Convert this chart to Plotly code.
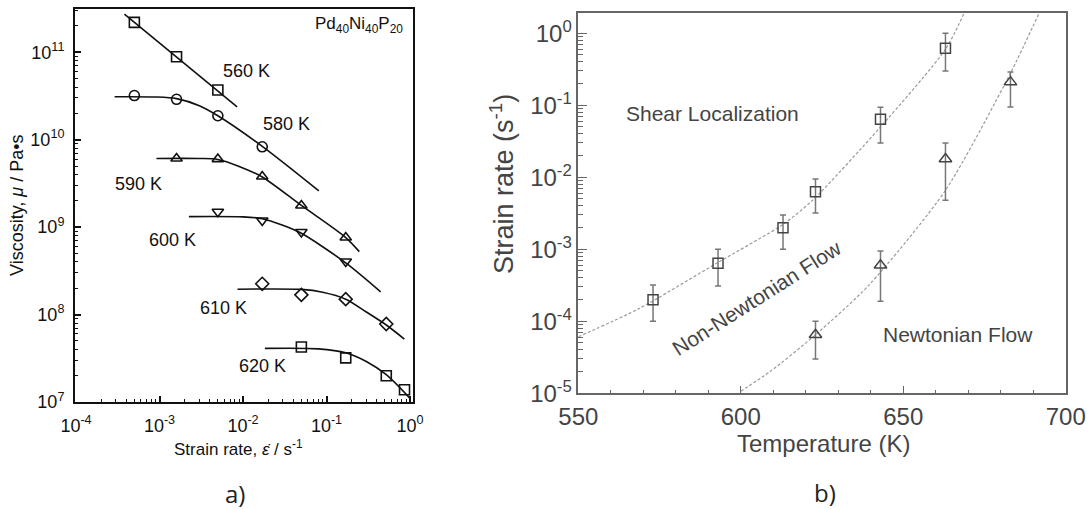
import plotly.graph_objects as go

W, H = 1089, 510

# ---------------- Panel a data (viscosity vs strain rate) ----------------
temps_a = ["560 K", "580 K", "590 K", "600 K", "610 K", "620 K"]

rate_560 = [5e-4, 1.6e-3, 5e-3]
visc_560 = [2.2e11, 8.9e10, 3.7e10]
rate_580 = [5e-4, 1.6e-3, 5e-3, 1.7e-2]
visc_580 = [3.2e10, 2.9e10, 1.88e10, 8.3e9]
rate_590 = [1.6e-3, 5e-3, 1.7e-2, 5e-2, 1.7e-1]
visc_590 = [6.1e9, 6.0e9, 3.8e9, 1.77e9, 7.6e8]
rate_600 = [5e-3, 1.7e-2, 5e-2, 1.7e-1]
visc_600 = [1.5e9, 1.19e9, 8.8e8, 4.05e8]
rate_610 = [1.7e-2, 5e-2, 1.7e-1, 5.2e-1]
visc_610 = [2.25e8, 1.68e8, 1.5e8, 7.8e7]
rate_620 = [5e-2, 1.7e-1, 5.2e-1, 8.6e-1]
visc_620 = [4.25e7, 3.2e7, 2.0e7, 1.38e7]

fit_rate_560 = [3.8e-4, 8.5e-3]
fit_visc_560 = [2.74e11, 2.37e10]
fit_rate_580 = [2.9e-4, 9e-4, 1.6e-3, 3e-3, 5e-3, 1.7e-2, 8.1e-2]
fit_visc_580 = [3.1e10, 3.08e10, 2.95e10, 2.45e10, 1.88e10, 8.4e9, 2.6e9]
fit_rate_590 = [9.2e-4, 3e-3, 5e-3, 9e-3, 1.7e-2, 5e-2, 1.7e-1, 2.47e-1]
fit_visc_590 = [6.1e9, 6.1e9, 5.95e9, 4.95e9, 3.75e9, 1.77e9, 7.6e8, 5.25e8]
fit_rate_600 = [2.25e-3, 1e-2, 1.7e-2, 3e-2, 5e-2, 1.7e-1, 4.45e-1]
fit_visc_600 = [1.32e9, 1.31e9, 1.25e9, 1.05e9, 8.5e8, 3.9e8, 1.82e8]
fit_rate_610 = [8.6e-3, 5e-2, 9e-2, 1.7e-1, 3e-1, 5.2e-1, 8.55e-1]
fit_visc_610 = [1.95e8, 1.94e8, 1.8e8, 1.5e8, 1.07e8, 7.6e7, 5.25e7]
fit_rate_620 = [1.83e-2, 8e-2, 1.7e-1, 3e-1, 5.2e-1, 1.0]
fit_visc_620 = [4.1e7, 4.05e7, 3.65e7, 2.9e7, 2.05e7, 1.1e7]

xticks_a = [1e-4, 1e-3, 1e-2, 1e-1, 1e0]
xticktext_a = ["10<sup>-4</sup>", "10<sup>-3</sup>", "10<sup>-2</sup>", "10<sup>-1</sup>", "10<sup>0</sup>"]
yticks_a = [1e7, 1e8, 1e9, 1e10, 1e11]
yticktext_a = ["10<sup>7</sup>", "10<sup>8</sup>", "10<sup>9</sup>", "10<sup>10</sup>", "10<sup>11</sup>"]

# ---------------- Panel b data (strain rate vs temperature) ----------------
temp_sq = [573, 593, 613, 623, 643, 663]
rate_sq = [2.0e-4, 6.4e-4, 2.0e-3, 6.3e-3, 6.4e-2, 0.62]
rate_sq_hi = [3.2e-4, 1.0e-3, 3.0e-3, 9.5e-3, 9.4e-2, 1.0]
rate_sq_lo = [1.0e-4, 3.1e-4, 1.0e-3, 3.2e-3, 3.0e-2, 0.30]

temp_tri = [623, 643, 663, 683]
rate_tri = [6.5e-5, 6.0e-4, 1.8e-2, 0.21]
rate_tri_hi = [1.0e-4, 9.5e-4, 3.0e-2, 0.29]
rate_tri_lo = [3.0e-5, 1.9e-4, 4.8e-3, 0.095]

curve_up_T = [550, 568.7, 592.8, 612.9, 622.1, 643, 663, 668.7]
curve_up_rate = [6.1e-5, 1.5e-4, 6.5e-4, 2.2e-3, 4.8e-3, 5.0e-2, 0.60, 1.9]
curve_lo_T = [600, 609, 623, 639.5, 663, 683, 691.8]
curve_lo_rate = [1.07e-5, 2.0e-5, 6.5e-5, 3.2e-4, 6.6e-3, 0.28, 1.9]

xticks_b = [550, 600, 650, 700]
yticks_b = [1e-5, 1e-4, 1e-3, 1e-2, 1e-1, 1e0]
yticktext_b = ["10<sup>-5</sup>", "10<sup>-4</sup>", "10<sup>-3</sup>", "10<sup>-2</sup>", "10<sup>-1</sup>", "10<sup>0</sup>"]

# ---------------- Figure ----------------
fig = go.Figure()
INK_A = "#111111"
INK_B = "#444444"

series_a = [
    (rate_560, visc_560, fit_rate_560, fit_visc_560, "square-open"),
    (rate_580, visc_580, fit_rate_580, fit_visc_580, "circle-open"),
    (rate_590, visc_590, fit_rate_590, fit_visc_590, "triangle-up-open"),
    (rate_600, visc_600, fit_rate_600, fit_visc_600, "triangle-down-open"),
    (rate_610, visc_610, fit_rate_610, fit_visc_610, "diamond-open"),
    (rate_620, visc_620, fit_rate_620, fit_visc_620, "square-open"),
]
for (rx, vy, fx, fy, sym), name in zip(series_a, temps_a):
    fig.add_trace(go.Scatter(x=fx, y=fy, mode="lines", line=dict(color=INK_A, width=1.6, shape="spline", smoothing=0.8),
                             xaxis="x", yaxis="y", showlegend=False, hoverinfo="skip"))
    fig.add_trace(go.Scatter(x=rx, y=vy, mode="markers", name=name,
                             marker=dict(symbol=sym, size=10, color=INK_A, line=dict(width=1.6, color=INK_A)),
                             xaxis="x", yaxis="y", showlegend=False))

# panel b
fig.add_trace(go.Scatter(x=curve_up_T, y=curve_up_rate, mode="lines",
                         line=dict(color="#9a9a9a", width=1.2, dash="3px,2px", shape="spline", smoothing=0.7),
                         xaxis="x2", yaxis="y2", showlegend=False, hoverinfo="skip"))
fig.add_trace(go.Scatter(x=curve_lo_T, y=curve_lo_rate, mode="lines",
                         line=dict(color="#9a9a9a", width=1.2, dash="3px,2px", shape="spline", smoothing=0.7),
                         xaxis="x2", yaxis="y2", showlegend=False, hoverinfo="skip"))
fig.add_trace(go.Scatter(
    x=temp_sq, y=rate_sq, mode="markers",
    marker=dict(symbol="square-open", size=10, color=INK_B, line=dict(width=1.5, color=INK_B)),
    error_y=dict(type="data", symmetric=False,
                 array=[h - v for h, v in zip(rate_sq_hi, rate_sq)],
                 arrayminus=[v - l for v, l in zip(rate_sq, rate_sq_lo)],
                 color="#777777", thickness=1.5, width=3),
    xaxis="x2", yaxis="y2", showlegend=False))
fig.add_trace(go.Scatter(
    x=temp_tri, y=rate_tri, mode="markers",
    marker=dict(symbol="triangle-up-open", size=11, color=INK_B, line=dict(width=1.5, color=INK_B)),
    error_y=dict(type="data", symmetric=False,
                 array=[h - v for h, v in zip(rate_tri_hi, rate_tri)],
                 arrayminus=[v - l for v, l in zip(rate_tri, rate_tri_lo)],
                 color="#777777", thickness=1.5, width=3),
    xaxis="x2", yaxis="y2", showlegend=False))

def minor_log(lo, hi):
    vals = []
    for e in range(lo, hi + 1):
        for k in range(2, 10):
            vals.append(k * 10.0 ** e)
    return vals

fig.update_layout(
    width=W, height=H, margin=dict(l=0, r=0, t=0, b=0, autoexpand=False),
    paper_bgcolor="white", plot_bgcolor="white",
    font=dict(family="Liberation Sans, Arial, sans-serif", color=INK_A),
    xaxis=dict(type="log", range=[-4.012, 0.036], domain=[75 / W, 413 / W], anchor="y", automargin=False,
               showline=True, linecolor=INK_A, linewidth=2, mirror=True, showgrid=False, zeroline=False,
               ticks="inside", ticklen=6, tickwidth=1.5, tickcolor=INK_A,
               tickvals=xticks_a, ticktext=xticktext_a, tickfont=dict(size=18, color=INK_A),
               ticklabelstandoff=6,
               minor=dict(tickvals=minor_log(-4, -1), ticks="inside", ticklen=3, tickwidth=1.2,
                          tickcolor=INK_A, showgrid=False)),
    yaxis=dict(type="log", range=[7.0, 11.495], domain=[1 - 402 / H, 1 - 9 / H], anchor="x", automargin=False,
               showline=True, linecolor=INK_A, linewidth=2, mirror=True, showgrid=False, zeroline=False,
               ticks="inside", ticklen=6, tickwidth=1.5, tickcolor=INK_A,
               tickvals=yticks_a, ticktext=yticktext_a, tickfont=dict(size=18, color=INK_A),
               ticklabelstandoff=5,
               minor=dict(tickvals=minor_log(7, 11), ticks="inside", ticklen=3, tickwidth=1.2,
                          tickcolor=INK_A, showgrid=False)),
    xaxis2=dict(type="linear", range=[550, 700], domain=[578.3 / W, 1065.7 / W], anchor="y2", automargin=False,
                showline=True, linecolor="#666666", linewidth=1.5, mirror=True, showgrid=False, zeroline=False,
                ticks="inside", ticklen=8, tickwidth=1.3, tickcolor="#666666",
                tickvals=xticks_b, tickfont=dict(size=24, color=INK_B), ticklabelstandoff=1,
                minor=dict(dtick=10, ticks="inside", ticklen=4, tickwidth=1.2, tickcolor="#666666", showgrid=False)),
    yaxis2=dict(type="log", range=[-5, 0.278], domain=[1 - 393.3 / H, 1 - 13.3 / H], anchor="x2", automargin=False,
                showline=True, linecolor="#666666", linewidth=1.5, mirror=True, showgrid=False, zeroline=False,
                ticks="inside", ticklen=9, tickwidth=1.3, tickcolor="#666666",
                tickvals=yticks_b, ticktext=yticktext_b, tickfont=dict(size=24, color=INK_B),
                ticklabelstandoff=0,
                minor=dict(tickvals=minor_log(-5, -1), ticks="inside", ticklen=5, tickwidth=1.1,
                           tickcolor="#666666", showgrid=False)),
)

ann = []
# panel a curve labels (log coordinates)
label_pos_a = [(-1.964, 10.79), (-1.477, 10.177), (-3.254, 9.491), (-2.842, 8.855), (-2.236, 8.074), (-1.769, 7.407)]
for name, (lx, ly) in zip(temps_a, label_pos_a):
    ann.append(dict(x=lx, y=ly, xref="x", yref="y", text=name, showarrow=False,
                    font=dict(size=18, color=INK_A), xanchor="center", yanchor="middle"))
ann.append(dict(x=-0.06, y=11.312, xref="x", yref="y", text="Pd<sub>40</sub>Ni<sub>40</sub>P<sub>20</sub>",
                showarrow=False, font=dict(size=17, color=INK_A), xanchor="right", yanchor="middle"))
# panel b region labels
ann.append(dict(x=564.1, y=-1.111, xref="x2", yref="y2", text="Shear Localization", showarrow=False,
                font=dict(size=21, color=INK_B), xanchor="left", yanchor="middle"))
ann.append(dict(x=643.2, y=-4.19, xref="x2", yref="y2", text="Newtonian Flow", showarrow=False,
                font=dict(size=21, color=INK_B), xanchor="left", yanchor="middle"))
ann.append(dict(x=605.1, y=-3.669, xref="x2", yref="y2", text="Non-Newtonian Flow", showarrow=False,
                textangle=-32.4, font=dict(size=21, color=INK_B), xanchor="center", yanchor="middle"))

def paper_text(px, py, text, size, color, angle=0, family=None):
    d = dict(x=px / W, y=1 - py / H, xref="paper", yref="paper", text=text, showarrow=False,
             font=dict(size=size, color=color), xanchor="center", yanchor="middle", textangle=angle,
             borderpad=0)
    if family:
        d["font"]["family"] = family
    return d

ann.append(paper_text(17, 205, "Viscosity, <i>μ</i> / Pa•s", 18, INK_A, -90))
ann.append(paper_text(238, 448, "Strain rate, <i>ε̇</i> / s<sup>-1</sup>", 17, INK_A))
ann.append(paper_text(235, 493, "a)", 24, "#222222", family="Open Sans, Noto Sans, sans-serif"))
ann.append(paper_text(502, 184, "Strain rate (s<sup>-1</sup>)", 27, INK_B, -90))
ann.append(paper_text(823, 443, "Temperature (K)", 24, INK_B))
ann.append(paper_text(825, 492, "b)", 24, "#222222", family="Open Sans, Noto Sans, sans-serif"))

fig.update_layout(annotations=ann)
fig.write_html("out.html")
